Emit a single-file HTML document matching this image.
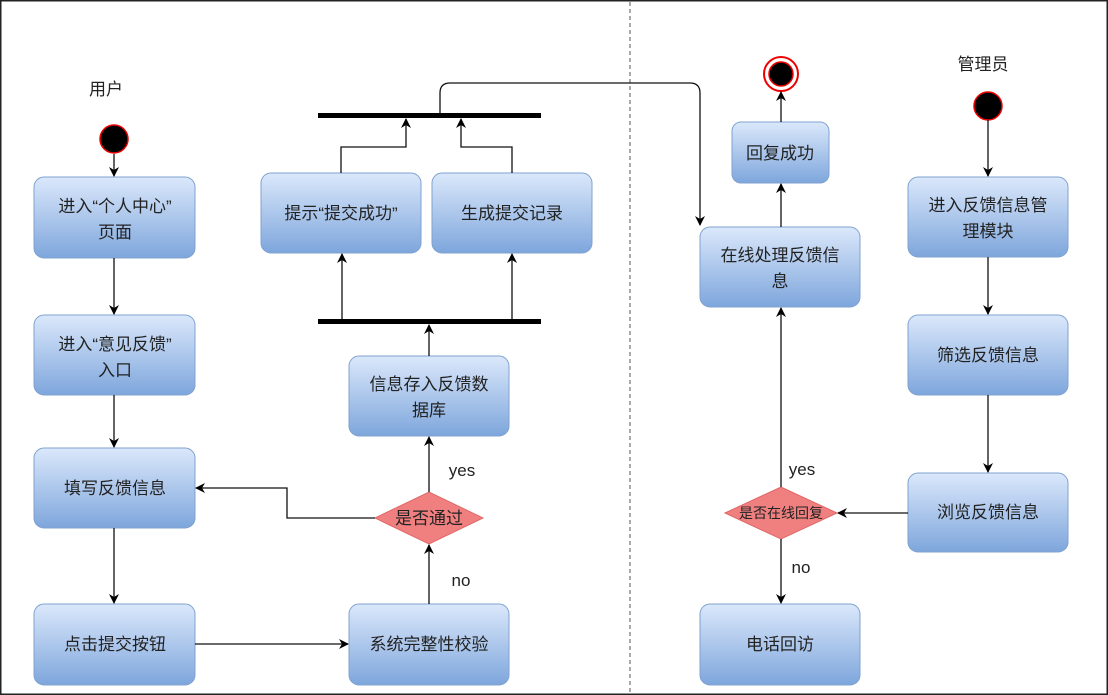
<!DOCTYPE html>
<html><head><meta charset="utf-8"><style>
html,body{margin:0;padding:0;background:#fff}
svg{display:block}
text{font-family:"Liberation Sans","Noto Sans CJK SC",sans-serif;fill:#222}
</style></head><body>
<svg width="1108" height="695" viewBox="0 0 1108 695" xmlns="http://www.w3.org/2000/svg">
<defs>
<linearGradient id="g" x1="0" y1="0" x2="0" y2="1">
<stop offset="0" stop-color="#dbe8fb"/><stop offset="1" stop-color="#7ea6dc"/>
</linearGradient>
<marker id="a" markerWidth="10" markerHeight="10" refX="9" refY="5" orient="auto" markerUnits="userSpaceOnUse">
<path d="M0,0 L10,5 L0,10 L3,5 z" fill="#000"/>
</marker>
</defs>
<rect x="0.5" y="0.5" width="1107" height="694" fill="#fff" stroke="#222" stroke-width="2"/>
<line x1="630" y1="2" x2="630" y2="693" stroke="#555" stroke-dasharray="4,3"/>

<g stroke="#7fa2cf" stroke-width="1" fill="url(#g)">
<rect x="34" y="177" width="161" height="81" rx="10"/>
<rect x="34" y="315" width="161" height="80" rx="10"/>
<rect x="34" y="448" width="161" height="80" rx="10"/>
<rect x="34" y="604" width="161" height="81" rx="10"/>
<rect x="349" y="604" width="160" height="81" rx="10"/>
<rect x="349" y="356" width="160" height="80" rx="10"/>
<rect x="261" y="173" width="160" height="80" rx="10"/>
<rect x="432" y="173" width="160" height="80" rx="10"/>
<rect x="700" y="227" width="160" height="80" rx="10"/>
<rect x="732" y="122" width="97" height="61" rx="9"/>
<rect x="908" y="177" width="160" height="80" rx="10"/>
<rect x="908" y="315" width="160" height="80" rx="10"/>
<rect x="908" y="473" width="160" height="79" rx="10"/>
<rect x="700" y="604" width="160" height="81" rx="10"/>
</g>
<g fill="#f08080" stroke="#e06666">
<polygon points="375,518 429,492 483,518 429,544"/>
<polygon points="725,513 781,487 837,513 781,539"/>
</g>
<rect x="318" y="113" width="223" height="5" fill="#000"/>
<rect x="318" y="319" width="223" height="5" fill="#000"/>
<circle cx="114" cy="139" r="14" fill="#000" stroke="#e00" stroke-width="1.5"/>
<circle cx="988" cy="106" r="14" fill="#000" stroke="#e00" stroke-width="1.5"/>
<circle cx="781" cy="74" r="17" fill="#fff" stroke="#e00" stroke-width="2"/>
<circle cx="781" cy="74" r="12" fill="#000" stroke="#e00" stroke-width="1.5"/>

<g stroke="#111" stroke-width="1.3" fill="none" marker-end="url(#a)">
<line x1="114" y1="154" x2="114" y2="176"/>
<line x1="114" y1="258" x2="114" y2="314"/>
<line x1="114" y1="395" x2="114" y2="447"/>
<line x1="114" y1="528" x2="114" y2="603"/>
<line x1="195" y1="644" x2="348" y2="644"/>
<line x1="429" y1="604" x2="429" y2="545"/>
<polyline points="375,518 287,518 287,488 196,488"/>
<line x1="429" y1="492" x2="429" y2="437"/>
<line x1="429" y1="356" x2="429" y2="325"/>
<line x1="342" y1="319" x2="342" y2="254"/>
<line x1="512" y1="319" x2="512" y2="254"/>
<polyline points="341,173 341,147 406,147 406,119"/>
<polyline points="512,173 512,147 461,147 461,119"/>
<path d="M440,113 L440,93 Q440,83 450,83 L690,83 Q700,83 700,93 L700,225"/>
<line x1="781" y1="122" x2="781" y2="92"/>
<line x1="781" y1="227" x2="781" y2="184"/>
<line x1="781" y1="487" x2="781" y2="308"/>
<line x1="781" y1="539" x2="781" y2="603"/>
<line x1="908" y1="513" x2="838" y2="513"/>
<line x1="988" y1="120" x2="988" y2="176"/>
<line x1="988" y1="257" x2="988" y2="314"/>
<line x1="988" y1="395" x2="988" y2="472"/>
</g>

<g font-size="17" text-anchor="middle">
<text x="106" y="95">用户</text>
<text x="983" y="70">管理员</text>
<text x="115" y="212">进入“个人中心”</text>
<text x="115" y="238">页面</text>
<text x="115" y="350">进入“意见反馈”</text>
<text x="115" y="376">入口</text>
<text x="115" y="494">填写反馈信息</text>
<text x="115" y="650">点击提交按钮</text>
<text x="429" y="650">系统完整性校验</text>
<text x="429" y="390">信息存入反馈数</text>
<text x="429" y="416">据库</text>
<text x="341" y="219">提示“提交成功”</text>
<text x="512" y="219">生成提交记录</text>
<text x="780" y="261">在线处理反馈信</text>
<text x="780" y="287">息</text>
<text x="780" y="159">回复成功</text>
<text x="988" y="211">进入反馈信息管</text>
<text x="988" y="237">理模块</text>
<text x="988" y="361">筛选反馈信息</text>
<text x="988" y="518">浏览反馈信息</text>
<text x="780" y="650">电话回访</text>
<text x="429" y="524">是否通过</text>
<text x="462" y="476">yes</text>
<text x="461" y="586">no</text>
<text x="802" y="475">yes</text>
<text x="801" y="573">no</text>
</g>
<text x="781" y="518" font-size="14" text-anchor="middle">是否在线回复</text>
</svg>
</body></html>
